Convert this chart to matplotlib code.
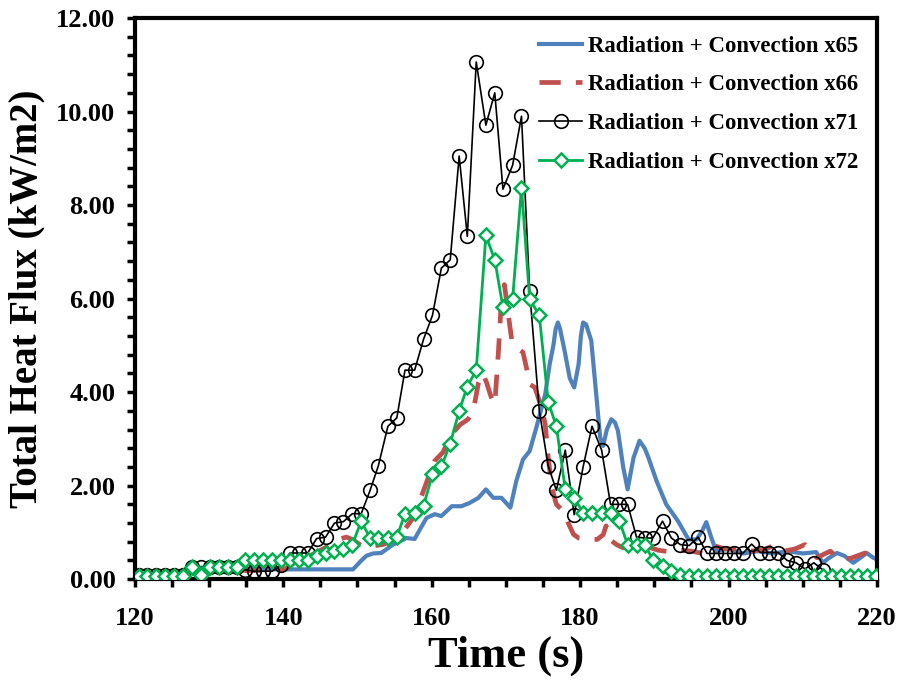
import matplotlib
matplotlib.use("Agg")
import matplotlib.pyplot as plt
from matplotlib.ticker import MultipleLocator, FormatStrFormatter

# ---------------- data ----------------
# x65 (smooth blue)
t65 = [120.0, 127.0, 128.0, 134.0, 140.0, 149.4, 150.4, 151.2, 152.1, 153.2, 154.8, 156.6, 157.7,
       158.4, 159.3, 160.4, 161.3, 162.7, 164.0, 165.1, 166.3, 167.3, 168.3, 169.4, 170.6,
       171.4, 172.3, 173.2, 174.1, 175.3, 175.9, 176.4, 176.7, 177.0, 177.3, 177.9, 178.6, 179.2, 179.8,
       180.1, 180.4, 180.8, 181.2, 181.5, 182.2, 182.7, 183.1, 183.6, 184.2, 184.7, 185.1, 185.8, 186.4,
       187.2, 188.0, 188.7, 189.2, 190.3, 191.6, 193.2, 194.6, 195.7, 196.5, 197.0, 197.7,
       198.3, 200.0, 202.0, 204.0, 206.0, 208.0, 210.0, 211.8, 212.7, 213.5, 214.6, 215.6,
       216.8, 217.7, 218.6, 219.5, 220.0]
x65 = [0.10, 0.10, 0.25, 0.22, 0.21, 0.21, 0.38, 0.50, 0.55, 0.56, 0.74, 0.88, 0.86,
       1.06, 1.31, 1.39, 1.35, 1.56, 1.56, 1.63, 1.74, 1.92, 1.74, 1.74, 1.53,
       2.10, 2.56, 2.74, 3.24, 3.96, 4.60, 5.00, 5.35, 5.49, 5.35, 4.89, 4.30, 4.10, 4.60,
       5.20, 5.49, 5.45, 5.25, 5.10, 3.90, 3.03, 2.85, 3.20, 3.42, 3.35, 3.17, 2.40, 1.92,
       2.60, 2.96, 2.80, 2.60, 2.10, 1.60, 1.24, 0.85, 0.85, 1.05, 1.22, 0.88,
       0.60, 0.65, 0.55, 0.60, 0.55, 0.60, 0.55, 0.58, 0.35, 0.45, 0.56, 0.50,
       0.35, 0.45, 0.56, 0.46, 0.42]

# x66 (smooth red dashed)
t66 = [120.0, 127.0, 128.0, 133.5, 135.0, 140.0, 141.5, 143.0, 144.3, 146.0, 147.4, 148.5,
       149.3, 150.5, 152.1, 153.4, 155.0, 156.2, 157.5, 158.8, 159.6, 160.4, 161.5, 162.7,
       163.8, 164.9, 165.6, 166.3, 166.9, 167.4, 168.0, 168.5, 169.0, 169.4, 169.8, 170.2,
       170.8, 171.5, 172.3, 172.8, 173.2, 173.9, 174.8, 175.3, 175.7, 176.2, 176.8, 177.7,
       178.4, 179.1, 179.8, 180.9, 182.3, 183.1, 183.5, 184.0, 184.9, 185.8, 187.0, 187.8,
       189.0, 190.5, 192.3, 193.5, 195.0, 196.5, 198.2, 199.5, 201.1, 203.0, 204.5, 206.0,
       207.5, 209.0, 210.3, 211.9, 213.7, 215.0, 216.5, 218.4, 219.7]
x66 = [0.10, 0.10, 0.25, 0.25, 0.18, 0.20, 0.35, 0.45, 0.56, 0.70, 0.85, 0.90,
       0.85, 0.72, 0.71, 0.74, 0.85, 1.03, 1.31, 1.85, 2.20, 2.53, 2.71, 3.10,
       3.30, 3.42, 3.60, 4.20, 4.40, 4.20, 3.90, 3.74, 4.89, 6.00, 6.30, 5.80,
       5.10, 4.95, 4.85, 4.50, 4.17, 4.10, 3.67, 3.31, 2.60, 1.95, 1.60, 1.46,
       1.20, 0.96, 0.88, 0.86, 0.85, 0.95, 1.14, 0.85, 0.74, 0.67, 0.70, 0.74,
       0.70, 0.62, 0.58, 0.62, 0.60, 0.55, 0.71, 0.65, 0.64, 0.60, 0.62, 0.71,
       0.60, 0.65, 0.74, 0.46, 0.60, 0.42, 0.45, 0.56, 0.42]

# x71 / x72 sampled series (shared time grid)
t_s = [120.5, 121.7, 122.9, 124.1, 125.3, 126.5, 127.7, 128.9, 130.1, 131.3, 132.5, 133.7,
       134.9, 136.1, 137.3, 138.5, 139.7, 140.9, 142.1, 143.3, 144.5, 145.7, 146.9, 148.1,
       149.3, 150.5, 151.7, 152.8, 154.1, 155.3, 156.4, 157.7, 158.9, 160.1, 161.3, 162.5,
       163.7, 164.8, 166.0, 167.3, 168.5, 169.6, 170.9, 172.1, 173.2, 174.5, 175.7, 176.8,
       178.0, 179.2, 180.4, 181.6, 182.9, 184.1, 185.3, 186.4, 187.6, 188.7, 189.8, 191.1,
       192.3, 193.5, 194.7, 195.9, 197.1, 198.3, 199.5, 200.7, 201.9, 203.1, 204.3, 205.5,
       206.7, 207.9, 209.1, 210.3, 211.5, 212.7, 213.9, 215.1, 216.3, 217.5, 218.7, 219.9]
x71 = [0.10, 0.10, 0.10, 0.10, 0.10, 0.10, 0.25, 0.25, 0.25, 0.25, 0.25, 0.25,
       0.20, 0.17, 0.17, 0.17, 0.30, 0.56, 0.56, 0.56, 0.87, 0.90, 1.20, 1.23,
       1.40, 1.40, 1.90, 2.42, 3.27, 3.45, 4.47, 4.47, 5.13, 5.64, 6.65, 6.83,
       9.05, 7.33, 11.06, 9.71, 10.40, 8.34, 8.85, 9.90, 6.16, 3.60, 2.42, 1.90,
       2.76, 1.38, 2.40, 3.27, 2.76, 1.60, 1.60, 1.60, 0.90, 0.88, 0.88, 1.24,
       0.88, 0.74, 0.72, 0.90, 0.55, 0.55, 0.55, 0.55, 0.55, 0.75, 0.57, 0.57,
       0.57, 0.40, 0.35, 0.22, 0.35, 0.20]
x72 = [0.06, 0.06, 0.06, 0.06, 0.06, 0.06, 0.25, 0.08, 0.25, 0.25, 0.25, 0.25,
       0.40, 0.40, 0.40, 0.40, 0.40, 0.42, 0.42, 0.42, 0.50, 0.56, 0.60, 0.64,
       0.74, 1.24, 0.88, 0.88, 0.88, 0.90, 1.40, 1.42, 1.57, 2.24, 2.41, 2.90,
       3.60, 4.12, 4.47, 7.35, 6.83, 5.81, 5.99, 8.37, 5.99, 5.64, 3.79, 3.27,
       1.92, 1.74, 1.42, 1.42, 1.42, 1.42, 1.24, 0.74, 0.74, 0.74, 0.42, 0.28,
       0.18, 0.08, 0.06, 0.06, 0.06, 0.06, 0.06, 0.06, 0.06, 0.06, 0.06, 0.06,
       0.06, 0.06, 0.06, 0.06, 0.06, 0.06, 0.06, 0.06, 0.06, 0.06, 0.06, 0.06]

labels = ["Radiation + Convection x65", "Radiation + Convection x66",
          "Radiation + Convection x71", "Radiation + Convection x72"]

# ---------------- plot ----------------
plt.rcParams['font.family'] = ['Liberation Serif', 'DejaVu Serif']
plt.rcParams['font.weight'] = 'bold'

fig = plt.figure(figsize=(8.99, 6.83), dpi=100)
ax = fig.add_axes([0.150, 0.152, 0.8255, 0.8216])

ax.plot(t65, x65, color='#4F81BD', lw=3.0, label=labels[0], zorder=2,
        solid_joinstyle='round')
ax.plot(t66, x66, color='#C0504D', lw=3.4, dashes=(4.5, 3.2), label=labels[1], zorder=3)
ax.plot(t_s[:len(x71)], x71, color='black', lw=1.2, marker='o', markersize=9.8,
        markerfacecolor='none', markeredgecolor='black', markeredgewidth=1.2,
        label=labels[2], zorder=4)
ax.plot(t_s[:len(x72)], x72, color='#00B050', lw=2.0, marker='D', markersize=7.5,
        markerfacecolor='white', markeredgecolor='#00B050', markeredgewidth=1.8,
        label=labels[3], zorder=5)

ax.set_xlim(120, 220)
ax.set_ylim(0, 12)
ax.xaxis.set_major_locator(MultipleLocator(20))
ax.xaxis.set_minor_locator(MultipleLocator(5))
ax.yaxis.set_major_locator(MultipleLocator(2))
ax.yaxis.set_minor_locator(MultipleLocator(0.4))
ax.yaxis.set_major_formatter(FormatStrFormatter('%.2f'))

for s in ax.spines.values():
    s.set_linewidth(3.0)
ax.tick_params(which='both', direction='out', width=2.5, length=6, labelsize=19)
ax.tick_params(axis='x', which='major', pad=14)
ax.tick_params(axis='y', which='major', pad=8)

ax.set_xlabel('Time (s)', fontsize=32, fontweight='bold', labelpad=4)
ax.set_ylabel('Total Heat Flux (kW/m2)', fontsize=28, fontweight='bold', labelpad=8)

leg = ax.legend(loc='upper right', bbox_to_anchor=(0.987, 0.985), frameon=False,
                prop={'family': 'Liberation Serif', 'weight': 'bold', 'size': 16.4},
                handlelength=1.9, handletextpad=0.25, labelspacing=0.78,
                borderaxespad=0)

fig.savefig('out.png', dpi=100, facecolor='white')
